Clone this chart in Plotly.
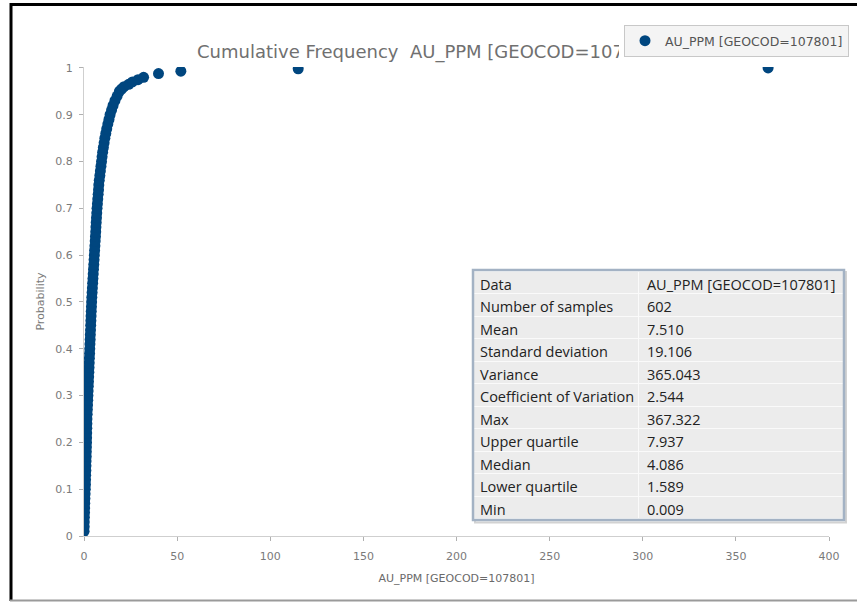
import plotly.graph_objects as go

# ---------------- data ----------------
probability = [
    0.01, 0.02, 0.03, 0.04, 0.05, 0.06, 0.07, 0.08, 0.09, 0.10,
    0.11, 0.12, 0.13, 0.14, 0.15, 0.16, 0.17, 0.18, 0.19, 0.20,
    0.21, 0.22, 0.23, 0.24, 0.25, 0.26, 0.27, 0.28, 0.29, 0.30,
    0.31, 0.32, 0.33, 0.34, 0.35, 0.36, 0.37, 0.38, 0.39, 0.40,
    0.41, 0.42, 0.43, 0.44, 0.45, 0.46, 0.47, 0.48, 0.49, 0.50,
    0.51, 0.52, 0.53, 0.54, 0.55, 0.56, 0.57, 0.58, 0.59, 0.60,
    0.61, 0.62, 0.63, 0.64, 0.65, 0.66, 0.67, 0.68, 0.69, 0.70,
    0.71, 0.72, 0.73, 0.74, 0.75, 0.76, 0.77, 0.78, 0.79, 0.80,
    0.81, 0.82, 0.83, 0.84, 0.85, 0.86, 0.87, 0.88, 0.89, 0.90,
    0.91, 0.92, 0.93, 0.94, 0.95, 0.955, 0.96, 0.965, 0.97, 0.975,
    0.98, 0.988, 0.993, 0.998, 1.0,
]
au_ppm = [
    0.05, 0.10, 0.15, 0.20, 0.30, 0.35, 0.40, 0.50, 0.60, 0.70,
    0.80, 0.85, 0.90, 1.00, 1.05, 1.10, 1.20, 1.25, 1.30, 1.35,
    1.40, 1.45, 1.50, 1.55, 1.59, 1.70, 1.80, 1.90, 2.00, 2.10,
    2.20, 2.30, 2.40, 2.50, 2.60, 2.70, 2.80, 2.90, 3.00, 3.10,
    3.20, 3.30, 3.40, 3.50, 3.60, 3.70, 3.80, 3.90, 4.00, 4.09,
    4.20, 4.35, 4.50, 4.65, 4.80, 4.95, 5.10, 5.25, 5.40, 5.55,
    5.70, 5.85, 6.00, 6.15, 6.30, 6.40, 6.55, 6.70, 6.85, 7.00,
    7.20, 7.40, 7.60, 7.80, 7.94, 8.20, 8.50, 8.80, 9.10, 9.40,
    9.70, 10.0, 10.4, 10.8, 11.2, 11.7, 12.2, 12.8, 13.4, 14.0,
    14.8, 15.6, 16.6, 17.8, 19.0, 20.2, 21.5, 24.0, 26.0, 29.0,
    32.0, 40.0, 52.0, 115.0, 367.3,
]
series_name = "AU_PPM [GEOCOD=107801]"
chart_title = "Cumulative Frequency\u00a0 AU_PPM [GEOCOD=107801]"
x_ticks = [0, 50, 100, 150, 200, 250, 300, 350, 400]
y_ticks = [0, 0.1, 0.2, 0.3, 0.4, 0.5, 0.6, 0.7, 0.8, 0.9, 1]

stat_labels = ["Number of samples", "Mean", "Standard deviation", "Variance",
               "Coefficient of Variation", "Max", "Upper quartile", "Median",
               "Lower quartile", "Min"]
stat_values = ["602", "7.510", "19.106", "365.043", "2.544", "367.322",
               "7.937", "4.086", "1.589", "0.009"]

# ---------------- layout geometry ----------------
W, H = 857, 603
L, R, T, B = 84, 10, 67, 67
PW, PH = W - L - R, H - T - B
PLOT_RIGHT = 829
LEGEND_LEFT = 620


def px(xp):
    return (xp - L) / PW


def py(yp):
    return (H - B - yp) / PH


BLUE = "#00467f"
TICKFONT = dict(family="DejaVu Sans", size=11, color="#7a7a7a")
TABLEFONT = dict(family="Open Sans", size=14.5, color="#222222")
NB = "\u00a0"

fig = go.Figure()
fig.add_trace(go.Scatter(
    x=au_ppm, y=probability, mode="markers", name=series_name,
    marker=dict(color=BLUE, size=11, line=dict(width=0)),
    showlegend=True,
))

fig.add_trace(go.Table(
    domain=dict(x=[px(472), px(843)], y=[py(519), py(271)]),
    columnwidth=[166, 203],
    header=dict(values=["Data", series_name.replace(" ", NB)], align="left",
                fill_color="#ececec", line=dict(color="#fafafa", width=1),
                font=TABLEFONT, height=22.5),
    cells=dict(values=[[s.replace(" ", NB) for s in stat_labels], stat_values],
               align="left",
               fill_color="#ececec", line=dict(color="#fafafa", width=1),
               font=TABLEFONT, height=22.5),
))

shapes = [
    # table shadow + outer border
    dict(type="rect", xref="paper", yref="paper", x0=px(475), x1=px(846),
         y0=py(522.5), y1=py(272), line=dict(color="#d2d2d2", width=2),
         fillcolor="rgba(0,0,0,0)", layer="below"),
    dict(type="rect", xref="paper", yref="paper", x0=px(473), x1=px(844),
         y0=py(520), y1=py(270), line=dict(color="#a3b2c4", width=2.5),
         fillcolor="rgba(0,0,0,0)", layer="above"),
    # frame
    dict(type="line", xref="paper", yref="paper", x0=px(10), x1=px(857),
         y0=py(4.5), y1=py(4.5), line=dict(color="#000000", width=3)),
    dict(type="line", xref="paper", yref="paper", x0=px(11), x1=px(11),
         y0=py(3), y1=py(601), line=dict(color="#000000", width=3)),
    dict(type="line", xref="paper", yref="paper", x0=px(10), x1=px(857),
         y0=py(600.5), y1=py(600.5), line=dict(color="#9a9a9a", width=2)),
]

# title as a clipped text box so that the legend appears to lie over it
annotations = [
    dict(text=chart_title, xref="paper", yref="paper",
         x=px(196), xanchor="left", y=py(52), yanchor="middle",
         width=LEGEND_LEFT - 196 - 2, align="left", showarrow=False,
         borderpad=0,
         font=dict(family="DejaVu Sans", size=18, color="#707070")),
]

fig.update_layout(
    width=W, height=H,
    margin=dict(l=L, r=R, t=T, b=B, autoexpand=False),
    paper_bgcolor="white", plot_bgcolor="white",
    legend=dict(x=px(849), xanchor="right", y=py(25), yanchor="top",
                bgcolor="#f4f4f4", bordercolor="#c8c8c8", borderwidth=1,
                font=dict(family="DejaVu Sans", size=12.5, color="#555555")),
    xaxis=dict(domain=[0, px(PLOT_RIGHT)], range=[0, 400], tickvals=x_ticks,
               showgrid=False, zeroline=False,
               showline=True, linecolor="#cfcfcf", linewidth=1,
               ticks="outside", ticklen=4, tickcolor="#b0b0b0",
               tickfont=TICKFONT, ticklabelstandoff=6,
               title=dict(text=series_name, standoff=12,
                          font=dict(family="DejaVu Sans", size=11, color="#6a6a6a"))),
    yaxis=dict(range=[0, 1.002], tickvals=y_ticks, showgrid=False, zeroline=False,
               showline=True, linecolor="#cfcfcf", linewidth=1,
               ticks="outside", ticklen=4, tickcolor="#b0b0b0",
               tickfont=TICKFONT, ticklabelstandoff=4,
               title=dict(text="Probability", standoff=8,
                          font=dict(family="DejaVu Sans", size=11, color="#7a7a7a"))),
    shapes=shapes,
    annotations=annotations,
)

fig.write_html("out.html")
